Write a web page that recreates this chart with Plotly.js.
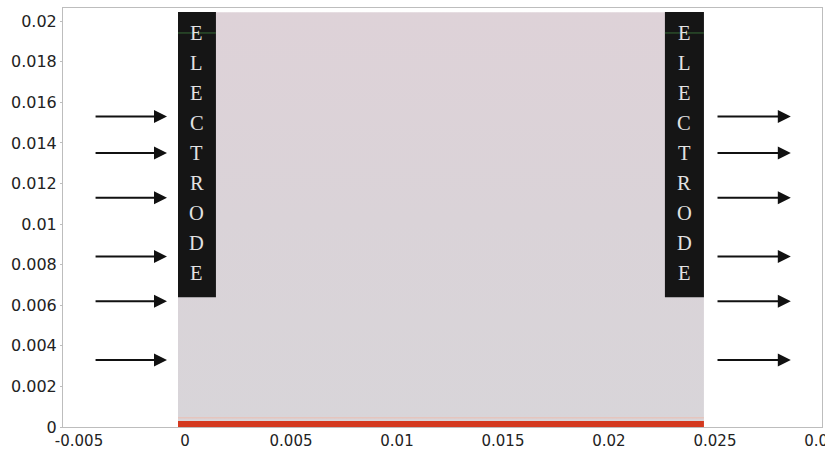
<!DOCTYPE html>
<html>
<head>
<meta charset="utf-8">
<script src="https://cdn.plot.ly/plotly-3.0.1.min.js"></script>
<style>
  html, body { margin: 0; padding: 0; background: #ffffff; }
  #chart { width: 825px; height: 449px; }
</style>
</head>
<body>
<div id="chart"></div>
<script>
// ---- values ----
const areaX = [-0.00033, 0.02448];          // sample region extent in x
const areaY = [0, 0.02044];                 // sample region extent in y
const electrodeLeftX = [-0.00033, 0.00146];
const electrodeRightX = [0.02264, 0.02448];
const electrodeY = [0.00639, 0.02045];
const bandY = [0, 0.0003];                  // red strip at the bottom
const glowY = 0.00045;                      // faint line above the strip
const markerLineY = 0.01942;                // thin green line across electrodes
const arrowY = [0.0153, 0.0135, 0.0113, 0.0084, 0.0062, 0.0033];
const leftArrowX = [-0.00429, -0.00085];    // [tail, head]
const rightArrowX = [0.02505, 0.02858];     // [tail, head]
const electrodeLabel = "ELECTRODE";
const xTickVals = [-0.005, 0, 0.005, 0.01, 0.015, 0.02, 0.025, 0.03];
const xTickText = ['-0.005', '0', '0.005', '0.01', '0.015', '0.02', '0.025', '0.03'];
const yTickVals = [0, 0.002, 0.004, 0.006, 0.008, 0.01, 0.012, 0.014, 0.016, 0.018, 0.02];
const yTickText = ['0', '0.002', '0.004', '0.006', '0.008', '0.01', '0.012', '0.014', '0.016', '0.018', '0.02'];

// ---- build the figure ----
const areaTrace = {
  type: 'scatter',
  mode: 'lines',
  x: [areaX[0], areaX[1], areaX[1], areaX[0], areaX[0]],
  y: [areaY[0], areaY[0], areaY[1], areaY[1], areaY[0]],
  fill: 'toself',
  fillcolor: '#dad3d7',
  fillgradient: {
    type: 'vertical',
    colorscale: [[0, '#d8d5d9'], [0.5, '#dad3d8'], [1, '#ded2d8']]
  },
  line: { width: 0 },
  hoverinfo: 'skip',
  showlegend: false
};

const shapes = [];
[electrodeLeftX, electrodeRightX].forEach(ex => {
  shapes.push({
    type: 'rect', xref: 'x', yref: 'y', layer: 'above',
    x0: ex[0], x1: ex[1], y0: electrodeY[0], y1: electrodeY[1],
    fillcolor: '#151515', line: { width: 0 }
  });
  shapes.push({
    type: 'line', xref: 'x', yref: 'y', layer: 'above',
    x0: ex[0], x1: ex[1], y0: markerLineY, y1: markerLineY,
    line: { color: '#3f7f3f', width: 1 }, opacity: 0.8
  });
});
shapes.push({
  type: 'line', xref: 'x', yref: 'y', layer: 'above',
  x0: areaX[0], x1: areaX[1], y0: glowY, y1: glowY,
  line: { color: '#ecbcb0', width: 1 }
});
shapes.push({
  type: 'rect', xref: 'x', yref: 'y', layer: 'above',
  x0: areaX[0], x1: areaX[1], y0: bandY[0], y1: bandY[1],
  fillcolor: '#d4391f', line: { width: 0 }
});

const annotations = [];
// vertical letters on each electrode
const letters = electrodeLabel.split('');
const eTop = electrodeY[1], eBot = electrodeY[0];
const step = (eTop - eBot) / 9.53;
[electrodeLeftX, electrodeRightX].forEach(ex => {
  const cx = (ex[0] + ex[1]) / 2;
  letters.forEach((ch, i) => {
    annotations.push({
      x: cx, y: eTop - (i + 0.7) * step, xref: 'x', yref: 'y',
      text: ch, showarrow: false, xanchor: 'center', yanchor: 'middle',
      font: { family: 'Liberation Serif, DejaVu Serif, serif', size: 20.5, color: '#e2e2e2' }
    });
  });
});
// flow arrows
arrowY.forEach(y => {
  [leftArrowX, rightArrowX].forEach(ax => {
    annotations.push({
      x: ax[1], y: y, ax: ax[0], ay: y,
      xref: 'x', yref: 'y', axref: 'x', ayref: 'y',
      text: '', showarrow: true, arrowhead: 2, arrowsize: 1.3,
      arrowwidth: 2, arrowcolor: '#111111', standoff: 0, startstandoff: 0
    });
  });
});

const yTickFont = { family: 'DejaVu Sans, sans-serif', size: 16, color: '#222222' };
const xTickFont = { family: 'DejaVu Sans, sans-serif', size: 15, color: '#222222' };

const layout = {
  width: 825, height: 449,
  margin: { l: 63, r: 3, t: 8, b: 22, pad: 0 },
  paper_bgcolor: '#ffffff', plot_bgcolor: '#ffffff',
  showlegend: false,
  xaxis: {
    range: [-0.005755, 0.03005],
    tickmode: 'array', tickvals: xTickVals, ticktext: xTickText,
    showgrid: false, zeroline: false,
    showline: true, mirror: true, linecolor: '#bdbdbd', linewidth: 1,
    ticks: '', ticklabeloverflow: 'allow',
    tickfont: xTickFont
  },
  yaxis: {
    range: [0, 0.02065],
    tickmode: 'array', tickvals: yTickVals, ticktext: yTickText,
    showgrid: false, zeroline: false,
    showline: true, mirror: true, linecolor: '#bdbdbd', linewidth: 1,
    ticks: 'outside', ticklen: 2, tickcolor: '#bdbdbd',
    tickfont: yTickFont
  },
  shapes: shapes,
  annotations: annotations
};

Plotly.newPlot('chart', [areaTrace], layout, { staticPlot: true, displayModeBar: false });
</script>
</body>
</html>
